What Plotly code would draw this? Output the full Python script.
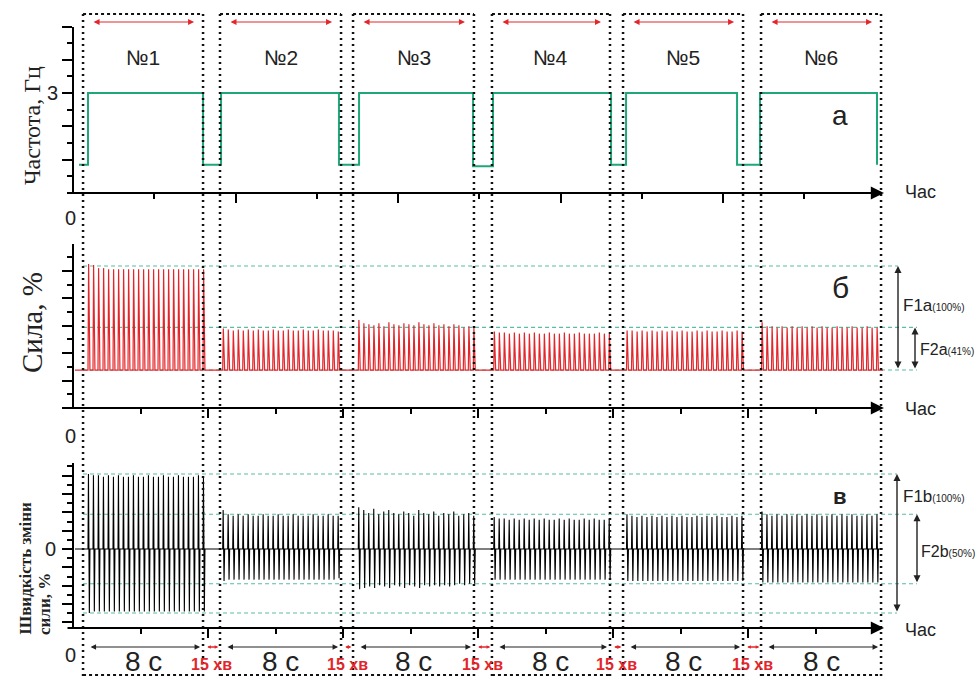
import plotly.graph_objects as go

# ---------------- data ----------------
seg_names = ["№1", "№2", "№3", "№4", "№5", "№6"]
# display time (s), time axis is broken by 15-min rest gaps
seg_start = [0.67, 9.80, 18.67, 27.93, 36.67, 45.87]
seg_end = [8.67, 17.87, 26.73, 35.80, 44.67, 53.87]
first_pulse = [1.00, 9.98, 19.02, 28.05, 36.90, 45.90]
stim_freq_hz = 3.0

freq_t = [0.40, 1.00, 8.67, 9.87, 17.73, 19.07, 26.67, 28.00, 35.87, 36.87, 44.27, 45.80, 53.60]
freq_v = [0.85, 3, 0.85, 3, 0.85, 3, 0.80, 3, 0.85, 3, 0.85, 3, 0.85]

force_peaks = [
    [102, 101, 98, 98, 97, 97, 97, 97, 97, 97, 97, 97, 97, 97, 97, 97, 97, 97, 97, 97, 97, 97, 97, 97],
    [40, 39, 38, 39, 38, 39, 38, 39, 38, 38, 39, 38, 38, 39, 38, 38, 39, 38, 38, 39, 38, 38, 38, 37],
    [48, 45, 44, 43, 45, 42, 46, 44, 43, 45, 44, 43, 46, 44, 43, 45, 43, 44, 42, 44, 43, 41, 42, 41],
    [37, 36, 36, 35, 36, 35, 36, 35, 36, 35, 35, 36, 35, 35, 36, 35, 35, 36, 35, 35, 35, 36, 35, 35],
    [38, 38, 37, 38, 37, 38, 37, 38, 37, 38, 37, 38, 37, 37, 38, 37, 38, 37, 37, 38, 37, 37, 38, 37],
    [46, 42, 42, 41, 42, 41, 42, 41, 42, 41, 42, 41, 42, 41, 41, 42, 41, 41, 42, 41, 41, 42, 41, 41],
]
rate_up = [
    [54, 53, 53, 52, 53, 52, 53, 52, 52, 53, 52, 52, 53, 52, 52, 53, 52, 52, 53, 52, 52, 52, 53, 52],
    [28, 25, 24, 25, 24, 25, 24, 24, 25, 24, 24, 25, 24, 24, 25, 24, 24, 24, 25, 24, 24, 25, 24, 24],
    [30, 28, 26, 29, 25, 27, 28, 26, 25, 27, 26, 24, 28, 26, 25, 27, 24, 26, 25, 27, 24, 25, 26, 24],
    [23, 22, 22, 21, 22, 21, 22, 21, 22, 21, 22, 21, 21, 22, 21, 22, 21, 21, 22, 21, 22, 21, 21, 22],
    [25, 24, 23, 24, 23, 24, 23, 24, 23, 24, 23, 24, 23, 23, 24, 23, 24, 23, 24, 23, 23, 24, 23, 24],
    [27, 25, 24, 25, 24, 25, 24, 25, 24, 25, 24, 25, 24, 24, 25, 24, 25, 24, 25, 24, 24, 25, 24, 25],
]
rate_down = [
    [46, 45, 45, 45, 45, 45, 45, 45, 45, 45, 45, 45, 45, 45, 45, 45, 45, 45, 45, 45, 45, 45, 45, 45],
    [23, 22, 22, 22, 22, 22, 22, 22, 22, 22, 22, 22, 22, 22, 22, 22, 22, 22, 22, 22, 22, 22, 22, 21],
    [29, 28, 27, 28, 26, 27, 28, 26, 27, 28, 26, 27, 28, 26, 27, 26, 27, 26, 27, 26, 25, 26, 25, 25],
    [22, 22, 22, 22, 22, 22, 22, 22, 22, 22, 22, 22, 22, 22, 22, 22, 22, 22, 22, 22, 22, 22, 22, 22],
    [23, 23, 23, 23, 23, 23, 23, 23, 23, 23, 23, 23, 23, 23, 23, 23, 23, 23, 23, 23, 23, 23, 23, 23],
    [24, 24, 24, 24, 24, 24, 24, 24, 24, 24, 24, 24, 24, 24, 24, 24, 24, 24, 24, 24, 24, 24, 24, 24],
]
F1a, F2a = 100, 41
F1b_top, F1b_bot = 54, -46
F2b_top, F2b_bot = 25, -25
dur_label = "8 с"
gap_label = "15 хв"
time_label = "Час"

# ---------------- styling helpers ----------------
W, H = 979, 678
def py(px):
    return 1 - px / H

X0_PX, PX_PER_S = 73, 15.0
xrange = [-X0_PX / PX_PER_S, (W - X0_PX) / PX_PER_S]
def tx(px):
    return (px - X0_PX) / PX_PER_S

GREEN = "#1fa67a"
DASHG = "#5bbba3"
RED = "#e3262b"
SANS = "Liberation Sans, Arial, sans-serif"
SERIF = "Liberation Serif, Times New Roman, serif"

# ---------------- traces ----------------
fig = go.Figure()
fig.add_trace(go.Scatter(x=freq_t, y=freq_v, mode="lines", line=dict(color=GREEN, width=2, shape="hv"),
                         xaxis="x", yaxis="y", hoverinfo="skip"))

fx, fy = [0.13], [0]
rx, ry = [0.13], [0]
for s in range(6):
    for k, amp in enumerate(force_peaks[s]):
        t = first_pulse[s] + k / stim_freq_hz
        fx += [t, t + 0.04, t + 0.13]
        fy += [0, amp, 0]
        rx += [t, t + 0.03, t + 0.06, t + 0.09, t + 0.13]
        ry += [0, rate_up[s][k], 0, -rate_down[s][k], 0]
fx.append(54.0); fy.append(0)
rx.append(54.0); ry.append(0)

fig.add_trace(go.Scatter(x=fx, y=fy, mode="lines", line=dict(color=RED, width=1.2),
                         xaxis="x2", yaxis="y2", hoverinfo="skip"))
fig.add_trace(go.Scatter(x=rx, y=ry, mode="lines", line=dict(color="black", width=1.1),
                         xaxis="x3", yaxis="y3", hoverinfo="skip"))

# ---------------- axes ----------------
common_x = dict(domain=[0, 1], range=xrange, showline=False, showgrid=False, zeroline=False,
                showticklabels=False, ticks="outside", ticklen=9, tickwidth=1.5, tickcolor="black")
top_step = 81.25 / PX_PER_S
low_step = 67.5 / PX_PER_S
xa1 = dict(common_x, anchor="y", tickvals=[top_step * k for k in (2, 4, 6, 8)],
           minor=dict(tickvals=[top_step * k for k in (1, 3, 5, 7, 9)], ticklen=5, tickwidth=1.5,
                      tickcolor="black", ticks="outside"))
xa2 = dict(common_x, anchor="y2", tickvals=[low_step * k for k in (2, 4, 6, 8, 10)],
           minor=dict(tickvals=[low_step * k for k in (1, 3, 5, 7, 9, 11)], ticklen=5, tickwidth=1.5,
                      tickcolor="black", ticks="outside"))
xa3 = dict(xa2, anchor="y3")

common_y = dict(anchor="free", position=X0_PX / W, showline=True, linecolor="black", linewidth=2,
                showgrid=False, zeroline=False, ticks="outside", ticklen=10, tickwidth=1.5,
                tickcolor="black", tickfont=dict(family=SANS, size=20, color="#222"))
ya1 = dict(common_y, domain=[py(193), py(26.5)], range=[0, 5], tickvals=[1, 2, 3, 4, 5],
           ticktext=["", "", "3", "", ""],
           minor=dict(dtick=0.5, tick0=0, ticklen=5, tickwidth=1.5, tickcolor="black", ticks="outside"))
ya2 = dict(common_y, domain=[py(408), py(244)], range=[-36.5, 121.2], tick0=-36.5, dtick=26.35,
           showticklabels=False,
           minor=dict(dtick=13.175, tick0=-36.5, ticklen=5, tickwidth=1.5, tickcolor="black", ticks="outside"))
ya3_major = [-52.8, -39.6, -26.4, -13.2, 0, 13.2, 26.4, 39.6, 52.8]
ya3 = dict(common_y, domain=[py(628), py(463)], range=[-56.8, 61.9], tickvals=ya3_major,
           ticktext=["0" if v == 0 else "" for v in ya3_major], ticklabelstandoff=2,
           minor=dict(dtick=6.6, tick0=0, ticklen=5, tickwidth=1.5, tickcolor="black", ticks="outside"))

shapes = []
annotations = []

def label(x, y, text, size, color="#222", family=SANS, xref="x", **kw):
    d = dict(x=x, y=y, xref=xref, yref="paper", text=text, showarrow=False,
             xanchor="center", yanchor="middle", font=dict(family=family, size=size, color=color))
    d.update(kw)
    annotations.append(d)

# segment dotted boxes
for s in range(6):
    for t in (seg_start[s], seg_end[s]):
        shapes.append(dict(type="line", xref="x", yref="paper", x0=t, x1=t, y0=py(676), y1=py(14),
                           line=dict(color="#111", width=2.5, dash="2px,4px")))
    for ypx in (14, 675):
        shapes.append(dict(type="line", xref="x", yref="paper", x0=seg_start[s], x1=seg_end[s],
                           y0=py(ypx), y1=py(ypx), line=dict(color="#111", width=2.2, dash="3px,3px")))

# reference dashed levels
for lvl, x1 in ((F1a, tx(898)), (F2a, tx(917)), (0, tx(917))):
    shapes.append(dict(type="line", xref="x2", yref="y2", x0=seg_start[0], x1=x1, y0=lvl, y1=lvl,
                       line=dict(color=DASHG, width=1.1, dash="4px,3px"), layer="below"))
for lvl, x1 in ((F1b_top, tx(897)), (F2b_top, tx(917)), (F2b_bot, tx(917)), (F1b_bot, tx(897))):
    shapes.append(dict(type="line", xref="x3", yref="y3", x0=seg_start[0], x1=x1, y0=lvl, y1=lvl,
                       line=dict(color=DASHG, width=1.1, dash="4px,3px"), layer="below"))

# x-axis arrows and labels
panels = [("x", "y", 0, 192, 218), ("x2", "y2", -36.5, 409, 436), ("x3", "y3", -56.8, 630, 655)]
for xr, yr, ymin, chas_px, zero_px in panels:
    annotations.append(dict(x=tx(884), y=ymin, ax=tx(66), ay=ymin, xref=xr, yref=yr, axref=xr, ayref=yr,
                            text="", showarrow=True, arrowhead=2, arrowsize=1.2, arrowwidth=2.2,
                            arrowcolor="black", standoff=0))
    label(tx(920), py(chas_px), time_label, 18)
    label(tx(70), py(zero_px), "0", 20)

for s in range(6):
    mid = (seg_start[s] + seg_end[s]) / 2
    label(mid, py(58), seg_names[s], 21)
    annotations.append(dict(x=seg_end[s] - 0.6, y=py(22), ax=seg_start[s] + 0.6, ay=0, xref="x",
                            yref="paper", axref="x", ayref="pixel", text="", showarrow=True,
                            arrowhead=2, arrowsize=1, arrowwidth=1.2, arrowside="end+start",
                            arrowcolor=RED, standoff=0, startstandoff=0))
    annotations.append(dict(x=seg_end[s] - 0.2, y=py(647), ax=seg_start[s] + 0.4, ay=0, xref="x",
                            yref="paper", axref="x", ayref="pixel", text="", showarrow=True,
                            arrowhead=2, arrowsize=1, arrowwidth=1.1, arrowside="end+start",
                            arrowcolor="#222", standoff=0, startstandoff=0))
    label(mid, py(661), dur_label, 28)
    if s < 5:
        g0, g1 = seg_end[s], seg_start[s + 1]
        annotations.append(dict(x=g1 - 0.12, y=py(647), ax=g0 + 0.18, ay=0, xref="x", yref="paper",
                                axref="x", ayref="pixel", text="", showarrow=True, arrowhead=2,
                                arrowsize=0.55, arrowwidth=1.3, arrowside="end+start", arrowcolor=RED,
                                standoff=0, startstandoff=0))
        label((g0 + g1) / 2, py(664), "<b>" + gap_label + "</b>", 16, color=RED)

# panel letters
for txt, ypx, size in (("а", 115, 28), ("б", 287, 30), ("<b>в</b>", 496, 22)):
    label(tx(840), py(ypx), txt, size)

# F arrows
for xr, yr, xpx, y0, y1 in (("x2", "y2", 898, F1a, 0), ("x2", "y2", 915, F2a, 0),
                            ("x3", "y3", 897, F1b_top, F1b_bot), ("x3", "y3", 917, F2b_top, F2b_bot)):
    xv = tx(xpx)
    annotations.append(dict(x=xv, y=y0, ax=xv, ay=y1, xref=xr, yref=yr, axref=xr, ayref=yr, text="",
                            showarrow=True, arrowhead=2, arrowsize=1, arrowwidth=1.4,
                            arrowside="end+start", arrowcolor="#222", standoff=0, startstandoff=0))
for main, sub, xpx, ypx, msize in (("F1a", "(100%)", 901, 305, 17), ("F2a", "(41%)", 918, 349, 16),
                                   ("F1b", "(100%)", 901, 496, 17), ("F2b", "(50%)", 919, 551, 16)):
    label(tx(xpx), py(ypx), main + "<span style='font-size:10px'>" + sub + "</span>", msize,
          xanchor="left")

# y titles
label(32 / W, py(126), "Частота, Гц", 24, family=SERIF, xref="paper", textangle=-90)
label(32 / W, py(323), "Сила, %", 29, family=SERIF, xref="paper", textangle=-90)
label(25 / W, py(637), "<b>Швидкість зміни</b>", 17, family=SERIF, xref="paper", textangle=-90,
      yanchor="bottom")
label(44 / W, py(637), "<b>сили, %</b>", 17, family=SERIF, xref="paper", textangle=-90,
      yanchor="bottom")

fig.update_layout(width=W, height=H, margin=dict(l=0, r=0, t=0, b=0), paper_bgcolor="white",
                  plot_bgcolor="rgba(0,0,0,0)", showlegend=False,
                  xaxis=xa1, xaxis2=xa2, xaxis3=xa3, yaxis=ya1, yaxis2=ya2, yaxis3=ya3,
                  shapes=shapes, annotations=annotations)
fig.write_html("out.html")
